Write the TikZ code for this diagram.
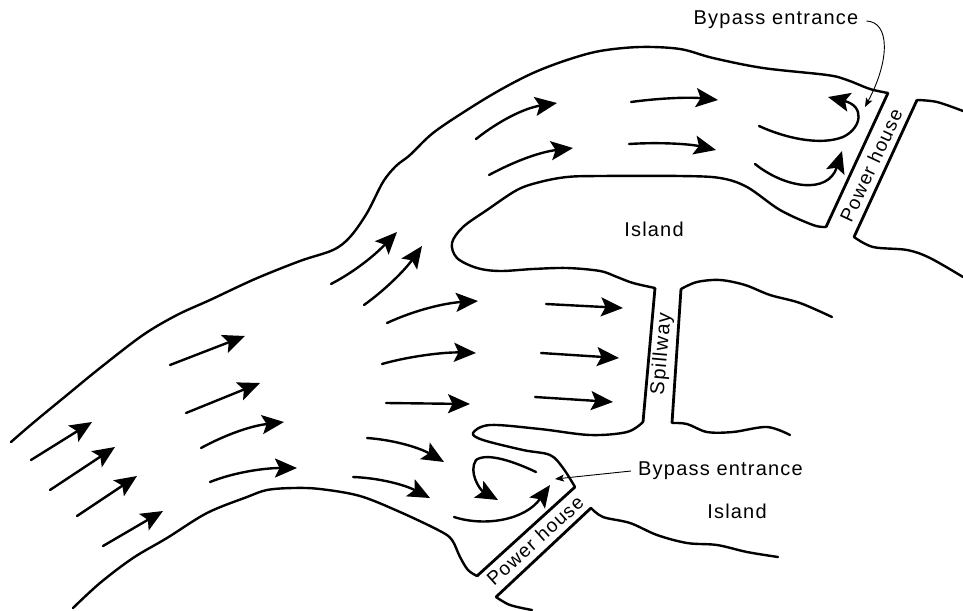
\documentclass[tikz,border=0pt]{standalone}
\usepackage{fontspec}
\setmainfont[LetterSpace=6]{Liberation Sans}
\usetikzlibrary{arrows.meta}
\tikzset{
  bank/.style={line width=2.4pt,line join=round,line cap=round},
  wall/.style={line width=2.8pt,line join=miter},
  flow/.style={line width=2.4pt,line cap=round,-{Stealth[length=22pt,width=19pt,inset=4.5pt]}},
  lead/.style={line width=0.9pt,-{Stealth[length=9pt,width=7pt,inset=2pt]}},
  lab/.style={font=\fontsize{20}{22}\selectfont,inner sep=0pt},
  rotlab/.style={font=\fontsize{19.2}{22}\selectfont,inner sep=0pt}
}
\begin{document}
\begin{tikzpicture}[x=1pt,y=-1pt]
\useasboundingbox[fill=white] (0,0) rectangle (963,610);
% banks
\draw[bank] plot[smooth,tension=0.55] coordinates {(11,442) (33,423) (67,395) (100,368) (143,335) (177,315) (210,300) (255,279) (300,261) (333,250) (350,237) (367,213) (383,182) (396,166) (410,155) (433,133) (467,110) (500,90) (533,73) (567,60) (600,51) (640,47) (680,49) (713,58) (763,68) (827,75) (847,80) (870,89) (888,93)};
\draw[bank] plot[smooth,tension=0.55] coordinates {(826,227) (813,225) (780,210) (747,187) (720,178) (680,176) (600,176) (567,177) (540,182) (517,190) (487,210) (463,227) (452,243) (457,258) (477,268) (500,271) (533,269) (567,268) (600,271) (617,277) (633,283) (655,288)};
\draw[bank] plot[smooth,tension=0.55] coordinates {(643,422) (627,432) (590,435) (540,429) (490,425) (473,433) (483,440) (523,450) (550,455) (563,468) (575,487)};
\draw[bank] plot[smooth,tension=0.55] coordinates {(477,576) (468,570) (460,557) (452,540) (440,531) (400,512) (360,496) (320,489) (293,488) (267,490) (247,497) (207,513) (167,538) (133,558) (100,583) (73,608)};
\draw[bank] plot[smooth,tension=0.55] coordinates {(917,100) (937,102) (963,111)};
\draw[bank] plot[smooth,tension=0.55] coordinates {(854,237) (873,247) (907,250) (930,258) (963,277)};
\draw[bank] plot[smooth,tension=0.55] coordinates {(681,289) (697,282) (720,280) (745,285) (770,295) (800,303) (832,317)};
\draw[bank] plot[smooth,tension=0.55] coordinates {(672,423) (687,424) (707,432) (733,432) (767,427) (790,435)};
\draw[bank] plot[smooth,tension=0.55] coordinates {(591,508) (603,517) (630,523) (657,535) (687,543) (717,545) (747,552) (778,557)};
\draw[bank] plot[smooth,tension=0.55] coordinates {(496,597) (510,605) (532,610)};
% walls
\draw[wall] (888,93) -- (826,227);
\draw[wall] (917,100) -- (854,237);
\draw[wall] (655,288) -- (643,422);
\draw[wall] (681,289) -- (672,423);
\draw[wall] (575,487) -- (477,576);
\draw[wall] (591,508) -- (496,597);
% straight flow arrows
\draw[flow] (31,460) -- (92,422);
\draw[flow] (50,490) -- (115,447);
\draw[flow] (77,516) -- (137,476);
\draw[flow] (103,546) -- (163,511);
\draw[flow] (170,365) -- (245,336);
\draw[flow] (186,413) -- (260,383);
\draw[flow] (386,403) -- (470,404);
\draw[flow] (546,304) -- (623,308);
\draw[flow] (541,353) -- (619,358);
\draw[flow] (535,397) -- (613,402);
% curved flow arrows
\draw[flow] (201,448) .. controls (225,435) and (250,426) .. (284,422);
\draw[flow] (210,482) .. controls (235,472) and (265,468) .. (297,468);
\draw[flow] (331,284) .. controls (352,273) and (372,258) .. (397,232);
\draw[flow] (364,305) .. controls (385,290) and (405,270) .. (422,246);
\draw[flow] (387,323) .. controls (415,310) and (445,303) .. (478,301);
\draw[flow] (382,364) .. controls (410,356) and (445,352) .. (476,353);
\draw[flow] (367,438) .. controls (395,440) and (420,448) .. (444,462);
\draw[flow] (353,477) .. controls (380,478) and (405,485) .. (430,498);
\draw[flow] (476,139) .. controls (500,120) and (525,108) .. (557,103);
\draw[flow] (489,175) .. controls (515,161) and (540,152) .. (573,148);
\draw[flow] (631,102) .. controls (660,98) and (690,97) .. (718,100);
\draw[flow] (629,144) .. controls (660,142) and (690,144) .. (716,150);
\draw[flow] (759,126) .. controls (785,138) and (820,146) .. (843,137) .. controls (862,128) and (865,106) .. (828,97);
\draw[flow] (755,164) .. controls (785,188) and (828,195) .. (842,151);
\draw[flow] (536,472) .. controls (515,462) and (487,452) .. (476,460) .. controls (468,472) and (480,490) .. (498,500);
\draw[flow] (454,517) .. controls (485,527) and (525,520) .. (550,485);
% labels
\node[lab] (by1) at (776,20) {Bypass entrance};
\node[lab] (by2) at (720.5,471) {Bypass entrance};
\node[lab] (is1) at (654,229) {Island};
\node[lab] (is2) at (737,511) {Island};
\node[rotlab,rotate=65] (ph1) at (871,165.5) {Power house};
\node[rotlab,rotate=42] (ph2) at (535,540.5) {Power house};
\node[lab,rotate=85] (sp) at (662,354) {Spillway};
% leaders
\coordinate (t1) at (865,107);
\coordinate (t2) at (555,479);
\draw[lead] (by1.east)++(8,1) .. controls (890,22) and (890,60) .. (t1);
\draw[lead] (by2.west)++(-7,0) -- (t2);
\end{tikzpicture}
\end{document}
